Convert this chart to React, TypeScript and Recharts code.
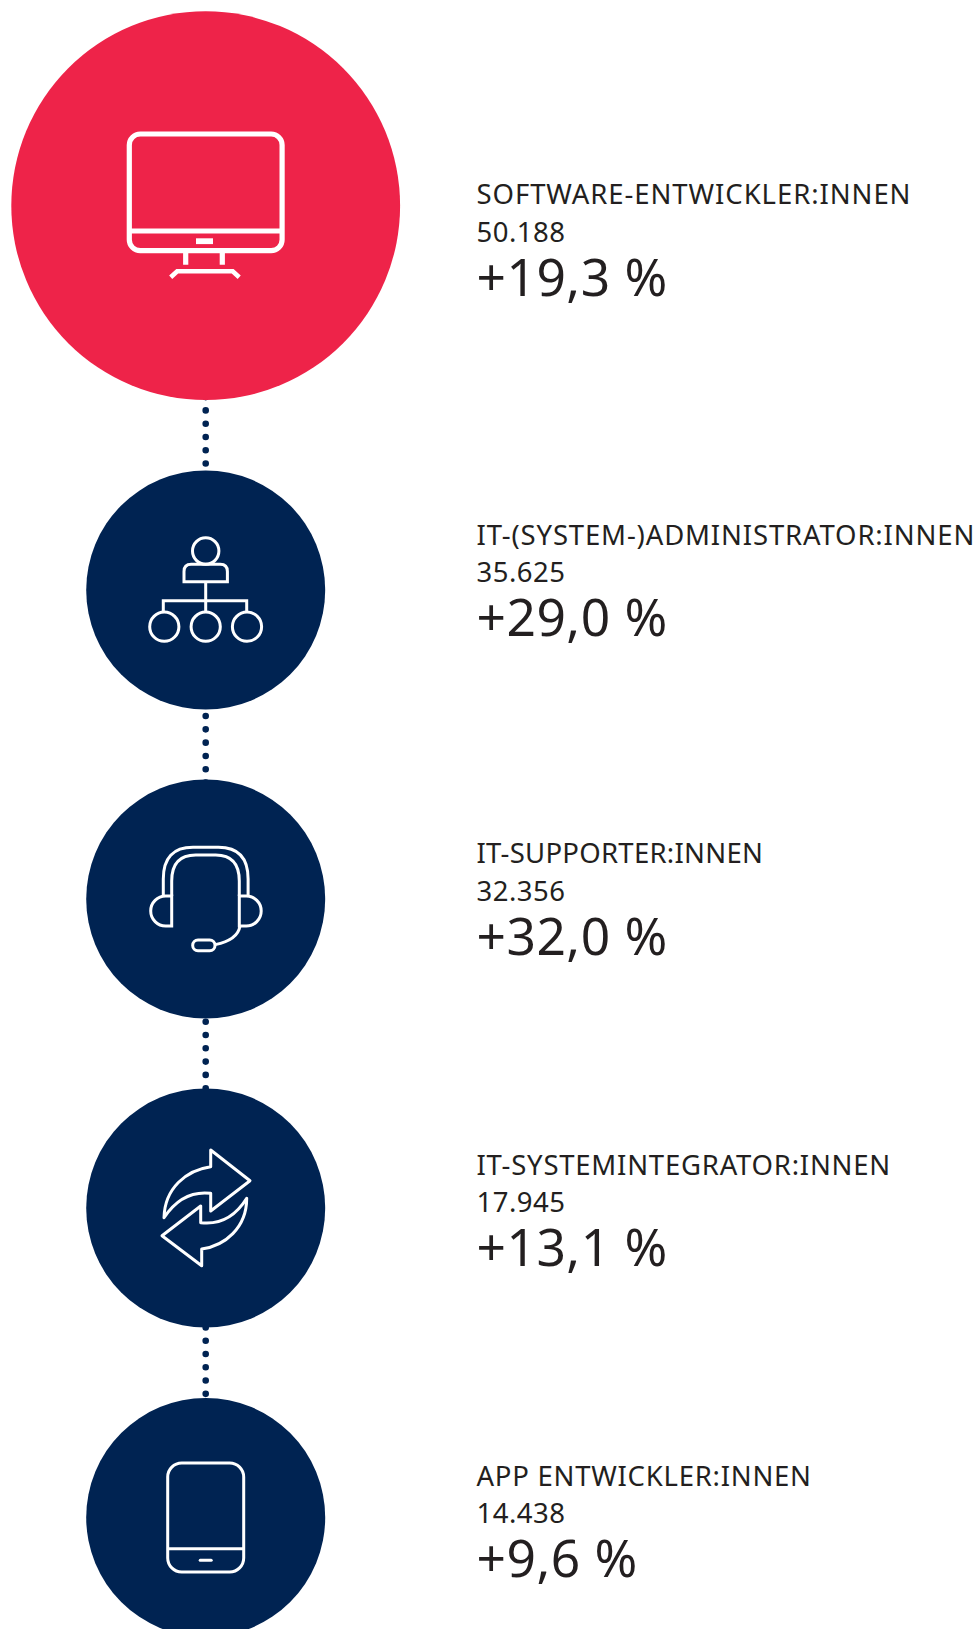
import { ScatterChart, Scatter, XAxis, YAxis, ZAxis } from "recharts";

const jobs = [
  "SOFTWARE-ENTWICKLER:INNEN",
  "IT-(SYSTEM-)ADMINISTRATOR:INNEN",
  "IT-SUPPORTER:INNEN",
  "IT-SYSTEMINTEGRATOR:INNEN",
  "APP ENTWICKLER:INNEN",
];
const counts = ["50.188", "35.625", "32.356", "17.945", "14.438"];
const growth = ["+19,3 %", "+29,0 %", "+32,0 %", "+13,1 %", "+9,6 %"];
const highlighted = [1, 0, 0, 0, 0];

// where things sit on the (pixel sized) axes, kept apart from the values
const circleX = 205.7;
const textX = 476.5;
const circleY = [205.7, 590, 899, 1208, 1517.5];
const jobY = [203.8, 545, 862.7, 1175, 1486];
const countY = [242, 582, 901, 1212, 1522.7];
const growthY = [295.5, 635.5, 954.8, 1265.7, 1576.7];

// the label font runs a little narrower than the original, row by row
const jobTracking = [0.93, 0.85, 0.27, 0.77, 0.75];

const RED = "#ee2349";
const NAVY = "#002352";
const INK = "#231f20";
const FONT = '"Noto Sans", sans-serif';

const circleData = jobs.map((job, i) => ({
  job,
  x: circleX,
  y: circleY[i],
  big: highlighted[i],
}));
const jobData = jobs.map((text, i) => ({ text, x: textX, y: jobY[i] }));
const countData = counts.map((text, i) => ({ text, x: textX, y: countY[i] }));
const growthData = growth.map((text, i) => ({ text, x: textX, y: growthY[i] }));

// icons are drawn around the centre of their circle
function MonitorIcon() {
  return (
    <g fill="none" stroke="#fff" strokeWidth={5.2}>
      <rect x={-76.4} y={-71.7} width={152.8} height={116.7} rx={11} />
      <path d="M-76 25.3H76" />
      <rect x={-9.7} y={32.6} width={17} height={5.8} fill="#fff" stroke="none" />
      <path d="M-20 45V59M16.6 45V59" />
      <path d="M-35 71.5L-28.5 65.5H27L33.5 71.5" strokeWidth={4.6} />
    </g>
  );
}

function NetworkIcon() {
  return (
    <g fill="none" stroke="#fff" strokeWidth={3}>
      <circle cx={0} cy={-39} r={13.2} />
      <path d="M-21.7 -8.3V-18.5Q-21.7 -25.7 -14.5 -25.7H14.5Q21.7 -25.7 21.7 -18.5V-8.3Z" />
      <path d="M0 -8.3V21.5M-42.4 21.5V10.7H41V21.5" />
      <circle cx={-41.4} cy={36.7} r={14.6} />
      <circle cx={0} cy={36.7} r={14.6} />
      <circle cx={41.3} cy={36.7} r={14.6} />
    </g>
  );
}

function HeadsetIcon() {
  return (
    <g fill="none" stroke="#fff" strokeWidth={3}>
      <path d="M-42.4 -3V-20Q-42.4 -51.7 -12.7 -51.7H12.7Q42.4 -51.7 42.4 -20V-3" />
      <path d="M-34 -3V-18Q-34 -44 -10 -44H10Q33.6 -44 33.6 -18V-3" />
      <path d="M-34 -3V27H-40A15 15 0 0 1 -40 -3Z" />
      <path d="M33.6 -3V27H40.5A15 15 0 0 0 40.5 -3Z" />
      <path d="M34.3 27Q32 41 9.5 45.6" />
      <rect x={-13} y={41} width={22.3} height={10.7} rx={5.3} />
    </g>
  );
}

function ArrowsIcon() {
  return (
    <g fill="none" stroke="#fff" strokeWidth={3} strokeLinejoin="round">
      <path d="M-41.7 9.7C-41 -20 -19 -38 5 -41.3V-58L44.3 -27.3L5 3V-14.7C-14 -17 -30 -8 -41.7 9.7Z" />
      <path d="M41 -9.7C41 20 19 38 -4 41V57.7L-43.7 27.7L-5 -2V14.7C14 17 30 8 41 -9.7Z" />
    </g>
  );
}

function TabletIcon() {
  return (
    <g fill="none" stroke="#fff" strokeWidth={3}>
      <rect x={-38} y={-54.5} width={76} height={109} rx={14} />
      <path d="M-38 31.2H38" />
      <path d="M-5.5 42.8H5.5" strokeWidth={3} strokeLinecap="round" />
    </g>
  );
}

const icons = [MonitorIcon, NetworkIcon, HeadsetIcon, ArrowsIcon, TabletIcon];

function CircleMark(props: any) {
  const { cx, cy, size, index, payload } = props;
  const Icon = icons[index];
  return (
    <g transform={`translate(${cx},${cy})`}>
      <circle r={Math.sqrt(size / Math.PI)} fill={payload.big ? RED : NAVY} />
      <Icon />
    </g>
  );
}

const textMark = (fontSize: number, tracking: (i: number) => number) =>
  function TextMark(props: any) {
    const { cx, cy, index, payload } = props;
    return (
      <text x={cx} y={cy} fontFamily={FONT} fill={INK} fontSize={fontSize} letterSpacing={tracking(index)}>
        {payload.text}
      </text>
    );
  };

export default function App() {
  return (
    <div style={{ position: "absolute", left: 0, top: 0, width: 978, height: 1629, background: "#fff" }}>
      <ScatterChart width={978} height={1629} margin={{ top: 0, right: 0, bottom: 0, left: 0 }}>
        <XAxis type="number" dataKey="x" domain={[0, 978]} hide />
        <YAxis type="number" dataKey="y" domain={[0, 1629]} reversed hide />
        <ZAxis
          type="number"
          dataKey="big"
          domain={[0, 1]}
          range={[Math.PI * 119.5 * 119.5, Math.PI * 194.4 * 194.4]}
        />
        <Scatter
          data={circleData}
          isAnimationActive={false}
          shape={CircleMark}
          line={{
            stroke: NAVY,
            strokeWidth: 6.6,
            strokeLinecap: "round",
            strokeDasharray: "0 13.29",
            strokeDashoffset: 7.94,
          }}
          lineType="joint"
        />
        <Scatter data={jobData} isAnimationActive={false} shape={textMark(27.5, (i) => jobTracking[i])} />
        <Scatter data={countData} isAnimationActive={false} shape={textMark(27.5, () => 0.5)} />
        <Scatter data={growthData} isAnimationActive={false} shape={textMark(51.5, () => 0.5)} />
      </ScatterChart>
    </div>
  );
}
